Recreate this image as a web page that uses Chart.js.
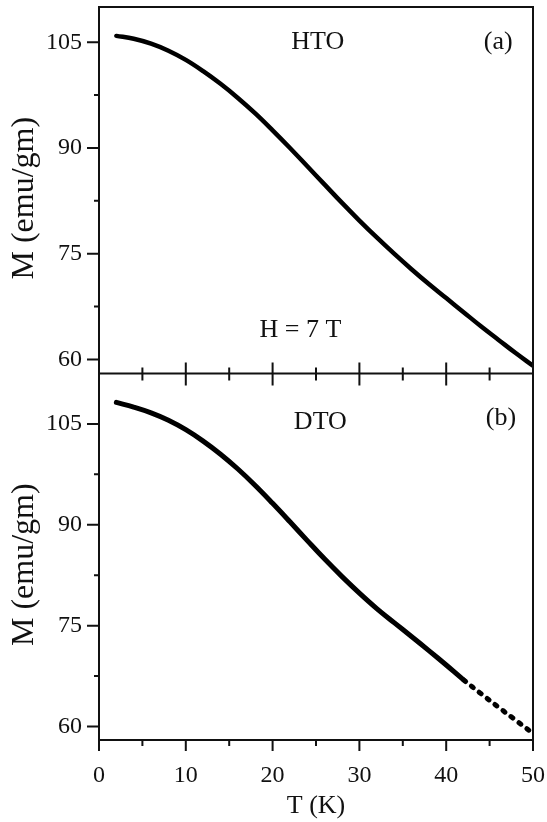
<!DOCTYPE html>
<html>
<head>
<meta charset="utf-8">
<script src="https://cdn.jsdelivr.net/npm/chart.js@4"></script>
<style>
  html, body { margin: 0; padding: 0; background: #fff; }
  #chart { display: block; }
</style>
</head>
<body>
<canvas id="chart" width="547" height="822"></canvas>
<script>
// temperatures (K) and magnetisation (emu/gm)
const temps = [2, 4, 6, 8, 10, 12, 14, 16, 18, 20, 22, 24, 26, 28, 30, 32, 34, 36, 38, 40, 42, 44, 46, 48, 50];
const htoM = [105.9, 105.5, 104.8, 103.8, 102.5, 100.9, 99.1, 97.1, 94.9, 92.5, 90.0, 87.4, 84.8, 82.2, 79.7, 77.3, 75.0, 72.8, 70.7, 68.7, 66.7, 64.7, 62.8, 60.9, 59.1];
const dtoM = [108.2, 107.5, 106.65, 105.55, 104.15, 102.45, 100.5, 98.3, 95.85, 93.2, 90.45, 87.65, 84.9, 82.3, 79.85, 77.55, 75.45, 73.4, 71.3, 69.15, 66.95, 64.9, 62.9, 60.95, 59.0];
const xTicks = [0, 10, 20, 30, 40, 50];
const yTicks = [60, 75, 90, 105];

const FONT = 'Liberation Serif';
const INK = '#111';

// frame, inner/outer tick marks and the panel texts
const framePlugin = {
  id: 'frame',
  afterDraw(chart) {
    const ctx = chart.ctx;
    const area = chart.chartArea;
    const x = chart.scales.x;
    const yA = chart.scales.yA;
    const yB = chart.scales.yB;
    ctx.save();
    ctx.strokeStyle = INK;
    ctx.lineWidth = 2;
    ctx.strokeRect(area.left, area.top, area.right - area.left, area.bottom - area.top);
    const mid = yA.bottom;
    ctx.beginPath();
    ctx.moveTo(area.left, mid);
    ctx.lineTo(area.right, mid);
    ctx.stroke();

    ctx.beginPath();
    for (let t = 5; t < 50; t += 5) {
      const px = x.getPixelForValue(t);
      const major = t % 10 === 0;
      // middle axis: ticks cross the line
      ctx.moveTo(px, mid - (major ? 11 : 6));
      ctx.lineTo(px, mid + (major ? 12 : 7));
      // bottom axis: outward
      ctx.moveTo(px, area.bottom);
      ctx.lineTo(px, area.bottom + (major ? 11 : 6));
    }
    ctx.moveTo(area.left, area.bottom);
    ctx.lineTo(area.left, area.bottom + 11);
    ctx.moveTo(area.right, area.bottom);
    ctx.lineTo(area.right, area.bottom + 11);
    [yA, yB].forEach(s => {
      for (let v = 60; v <= 105; v += 7.5) {
        const py = s.getPixelForValue(v);
        const major = v % 15 === 0;
        ctx.moveTo(area.left - (major ? 12 : 5), py);
        ctx.lineTo(area.left, py);
      }
    });
    ctx.stroke();

    ctx.fillStyle = INK;
    ctx.font = '26px "' + FONT + '"';
    ctx.textAlign = 'center';
    ctx.textBaseline = 'middle';
    ctx.fillText('HTO', x.getPixelForValue(25.2), yA.getPixelForValue(105));
    ctx.fillText('(a)', x.getPixelForValue(46), yA.getPixelForValue(105));
    ctx.fillText('H = 7 T', x.getPixelForValue(23.2), yA.getPixelForValue(64.2));
    ctx.fillText('DTO', x.getPixelForValue(25.5), yB.getPixelForValue(105.2));
    ctx.fillText('(b)', x.getPixelForValue(46.3), yB.getPixelForValue(105.8));
    ctx.restore();
  }
};

const noPad = s => {
  s.paddingTop = 0;
  s.paddingBottom = 0;
  s.paddingLeft = 0;
  s.paddingRight = 0;
};

const yScale = (min, max, weight) => ({
  type: 'linear',
  position: 'left',
  stack: 'panels',
  stackWeight: 1,
  weight: weight,
  min: min,
  max: max,
  grid: { display: false, drawTicks: false },
  border: { display: false },
  ticks: {
    stepSize: 15,
    includeBounds: false,
    padding: 17,
    color: INK,
    font: { family: FONT, size: 24 },
    callback: v => yTicks.includes(v) ? String(v) : ''
  },
  title: {
    display: true,
    text: 'M (emu/gm)\u2002', // trailing en space nudges the title a little lower, as in the figure
    color: INK,
    padding: { top: 5, bottom: 0 },
    font: { family: FONT, size: 32 }
  },
  afterFit: s => { s.width = 99; noPad(s); }
});

new Chart(document.getElementById('chart'), {
  type: 'line',
  data: {
    labels: temps,
    datasets: [
      {
        label: 'HTO',
        data: temps.map((t, i) => ({ x: t, y: htoM[i] })),
        yAxisID: 'yA',
        borderColor: '#000',
        borderWidth: 4.5,
        pointRadius: 0,
        tension: 0.4,
        borderCapStyle: 'round'
      },
      {
        label: 'DTO',
        data: temps.map((t, i) => ({ x: t, y: dtoM[i] })),
        yAxisID: 'yB',
        borderColor: '#000',
        borderWidth: 5,
        pointRadius: 0,
        tension: 0.4,
        borderCapStyle: 'round',
        segment: {
          borderDash: c => c.p0.parsed.x >= 42 ? [2.5, 7.5] : undefined
        }
      }
    ]
  },
  options: {
    responsive: false,
    animation: false,
    devicePixelRatio: 1,
    layout: { padding: { top: 7, right: 14, left: 0, bottom: 0 } },
    plugins: { legend: { display: false }, tooltip: { enabled: false } },
    scales: {
      x: {
        type: 'linear',
        min: 0,
        max: 50,
        grid: { display: false, drawTicks: false },
        border: { display: false },
        ticks: {
          stepSize: 10,
          padding: 21,
          color: INK,
          font: { family: FONT, size: 24 },
          callback: v => xTicks.includes(v) ? String(v) : ''
        },
        title: {
          display: true,
          text: 'T (K)',
          color: INK,
          padding: { top: 0, bottom: 0 },
          font: { family: FONT, size: 26 }
        },
        afterFit: s => { s.height = 82; noPad(s); }
      },
      yA: yScale(58, 110, 1),
      yB: yScale(58, 112.5, 0)
    }
  },
  plugins: [framePlugin]
});
</script>
</body>
</html>
